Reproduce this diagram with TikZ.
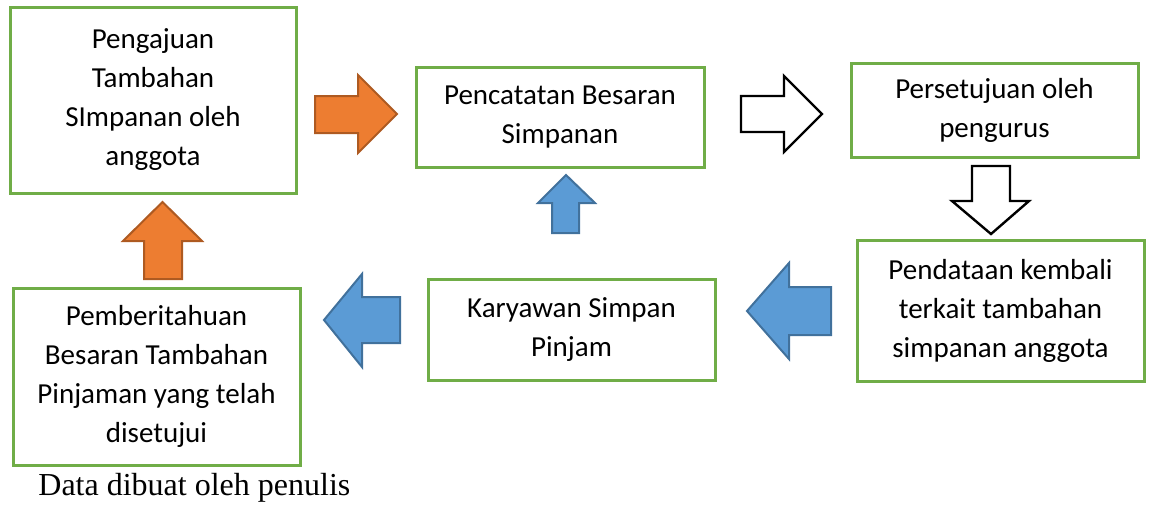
\documentclass[tikz,border=0pt]{standalone}
\usepackage{fontspec}
\setmainfont{Carlito}
\newfontfamily\captionfont{Liberation Serif}
\usetikzlibrary{positioning}
\definecolor{boxgreen}{HTML}{70AD47}
\definecolor{arrowOrange}{HTML}{ED7D31}
\definecolor{arrowOrangeLine}{HTML}{AE5A21}
\definecolor{arrowBlue}{HTML}{5B9BD5}
\definecolor{arrowBlueLine}{HTML}{41719C}
\tikzset{
    stepbox/.style={draw=boxgreen, line width=1.5pt, align=center, inner sep=0pt,
        font=\fontsize{14.5}{19.5}\selectfont},
    orangeArrow/.style={fill=arrowOrange, draw=arrowOrangeLine, line width=1pt},
    blueArrow/.style={fill=arrowBlue, draw=arrowBlueLine, line width=1pt},
    whiteArrow/.style={fill=white, draw=black, line width=1.2pt}
}

\begin{document}
\begin{tikzpicture}[x=0.5pt, y=-0.5pt]
        \useasboundingbox (0,0) rectangle (1151,504);
        % boxes
        \node[stepbox, minimum width=143pt, minimum height=93pt] (pengajuan) at (153,100)
            {Pengajuan\\Tambahan\\SImpanan oleh\\anggota};
        \node[stepbox, minimum width=144pt, minimum height=50pt] (pencatatan) at (560,117)
            {Pencatatan Besaran\\Simpanan};
        \node[stepbox, minimum width=143.5pt, minimum height=47pt] (persetujuan) at (994.5,110)
            {Persetujuan oleh\\pengurus};
        \node[stepbox, minimum width=143.5pt, minimum height=70.5pt] (pendataan) at (1000.5,310.5)
            {Pendataan kembali\\terkait tambahan\\simpanan anggota};
        \node[stepbox, minimum width=143.5pt, minimum height=50.5pt] (karyawan) at (571.5,329.5)
            {Karyawan Simpan\\Pinjam};
        \node[stepbox, minimum width=143.5pt, minimum height=88.5pt] (pemberitahuan) at (156.5,376.5)
            {Pemberitahuan\\Besaran Tambahan\\Pinjaman yang telah\\disetujui};
        % block arrows
        \draw[orangeArrow] (315,96) -- (358,96) -- (358,75) -- (397,114) -- (358,153) -- (358,133) -- (315,133) -- cycle;
        \draw[whiteArrow] (741,96) -- (784,96) -- (784,76) -- (822,114) -- (784,152) -- (784,132) -- (741,132) -- cycle;
        \draw[whiteArrow] (972,166) -- (1010,166) -- (1010,201) -- (1029,201) -- (991,234) -- (952,201) -- (972,201) -- cycle;
        \draw[blueArrow] (831,287) -- (789,287) -- (789,263) -- (747,311) -- (789,359) -- (789,335) -- (831,335) -- cycle;
        \draw[blueArrow] (400,297) -- (362,297) -- (362,274) -- (324,320) -- (362,367) -- (362,343) -- (400,343) -- cycle;
        \draw[blueArrow] (552,233) -- (552,203) -- (538,203) -- (566,175) -- (595,203) -- (579,203) -- (579,233) -- cycle;
        \draw[orangeArrow] (144,279) -- (144,241) -- (123,241) -- (162.5,202) -- (202,241) -- (182,241) -- (182,279) -- cycle;
        % caption
        \node[anchor=base west, inner sep=0pt, font=\captionfont\fontsize{16}{18}\selectfont] (sumber) at (38,495)
            {Data dibuat oleh penulis};
\end{tikzpicture}
\end{document}
